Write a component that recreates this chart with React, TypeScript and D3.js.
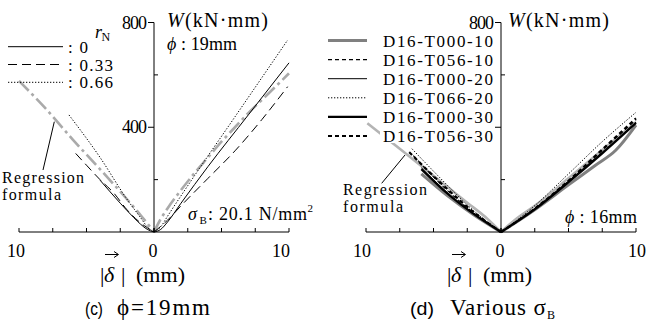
import React from 'react';
import * as d3 from 'd3';

type P = [number, number];

// ---------- (c) phi = 19 mm : rN series, [|delta| mm, W kN·mm] ----------
const cR0Right: P[] = [[0, 0], [0.5, 10], [1, 38], [2, 110], [4, 250], [7, 448], [10, 646]];
const cR0Left: P[] = [[0, 0], [0.5, 10], [1, 30], [1.5, 55], [2.5, 110], [4, 198]];
const cR33Right: P[] = [[0, 0], [1, 45], [2, 100], [4, 205], [6, 310], [8, 430], [9.9, 555]];
const cR33Left: P[] = [[0, 0], [1, 35], [2, 85], [3, 150], [4, 200], [5, 255], [5.8, 300]];
const cR66Right: P[] = [[0, 0], [0.5, 20], [1, 60], [3, 215], [6, 440], [9.9, 733]];
const cR66Left: P[] = [[0, 0], [0.5, 20], [1, 55], [2, 125], [4, 285], [6.3, 447]];
const cRegRight: P[] = [[0, 0], [0.5, 50], [1, 90], [2, 160], [3, 225], [4, 285], [5, 345], [6, 400], [7, 455], [8, 505], [9, 555], [10, 606]];
const cRegLeft: P[] = [[0, 0], [1, 65], [2, 125], [4, 240], [6, 352], [8, 470], [10, 577]];

// ---------- (d) various sigma_B : phi = 16 mm ----------
const dT000_10Right: P[] = [[0, 0], [2.5, 85], [5, 180], [7, 255], [8.5, 312], [10, 408]];
const dT000_10Left: P[] = [[0, 0], [2, 65], [4, 140], [5.9, 222]];
const dT056_10Right: P[] = [[0, 0], [2.5, 90], [5, 198], [7.5, 312], [10, 428]];
const dT056_10Left: P[] = [[0, 0], [2, 72], [4, 160], [6.5, 292]];
const dT000_20Right: P[] = [[0, 0], [2.5, 90], [5, 195], [7.5, 305], [10, 420]];
const dT000_20Left: P[] = [[0, 0], [2, 70], [4, 152], [5.9, 245]];
const dT066_20Right: P[] = [[0, 0], [1, 38], [2.4, 96], [4.9, 217], [7.5, 345], [10, 457]];
const dT066_20Left: P[] = [[0, 0], [2, 80], [4, 180], [6.6, 318]];
const dT000_30Right: P[] = [[0, 0], [2.5, 86], [5, 190], [7.5, 300], [10, 416]];
const dT000_30Left: P[] = [[0, 0], [2, 68], [4, 148], [5.9, 240]];
const dT056_30Right: P[] = [[0, 0], [2.4, 85], [4.9, 190], [7.5, 315], [10, 434]];
const dT056_30Left: P[] = [[0, 0], [2, 75], [4, 165], [6.8, 305]];
const dRegRight: P[] = [[0, 0], [1, 45], [2.5, 100], [5, 205], [7.5, 313], [10, 420]];
const dRegLeft: P[] = [[0, 0], [1, 50], [2.5, 112], [5, 215], [7.5, 318], [9.9, 415]];

const cLegendLabels = [': 0', ': 0.33', ': 0.66'];
const dLegendLabels = ['D16-T000-10', 'D16-T056-10', 'D16-T000-20', 'D16-T066-20', 'D16-T000-30', 'D16-T056-30'];

const xTickValues = [0, 2.5, 5, 7.5, 10];
const cYLabels = [400, 800];
const dYLabels = [800];
const yLeftTicks = [400, 800];
const yRightTicks = [200, 600];

const SERIF = 'Liberation Serif, Times New Roman, Times, serif';
const SANS = 'Liberation Sans, Arial, Helvetica, sans-serif';

type Style = { stroke: string; width: number; dash?: string };

const cStyles: Style[] = [
  { stroke: '#000', width: 1 },
  { stroke: '#000', width: 1, dash: '9,5' },
  { stroke: '#000', width: 1, dash: '1.3,1.7' },
];
const regStyleC: Style = { stroke: '#aaa', width: 2.6, dash: '14,4,3,4' };
const regStyleD: Style = { stroke: '#b4b4b4', width: 2.6 };
const dStyles: Style[] = [
  { stroke: '#808080', width: 3 },
  { stroke: '#000', width: 1.1, dash: '4,3' },
  { stroke: '#000', width: 1 },
  { stroke: '#000', width: 1, dash: '1.3,1.7' },
  { stroke: '#000', width: 2.2 },
  { stroke: '#000', width: 2.2, dash: '4,3' },
];

const yScale = d3.scaleLinear().domain([0, 800]).range([232, 22.5]);

type Panel = { x0: number; xL: number; xR: number };

function pathFor(xs: d3.ScaleLinear<number, number>, pts: P[]) {
  const px: [number, number][] = pts.map((d) => [xs(d[0]), yScale(d[1])]);
  px.sort((a, b) => a[0] - b[0]);
  return d3.line().curve(d3.curveMonotoneX)(px) || '';
}

function Series({ panel, right, left, st }: { panel: Panel; right: P[]; left: P[]; st: Style }) {
  const xr = d3.scaleLinear().domain([0, 10]).range([panel.x0, panel.xR]);
  const xl = d3.scaleLinear().domain([0, 10]).range([panel.x0, panel.xL]);
  const common = {
    fill: 'none',
    stroke: st.stroke,
    strokeWidth: st.width,
    strokeDasharray: st.dash,
  };
  return (
    <g>
      <path d={pathFor(xr, right)} {...common} />
      <path d={pathFor(xl, left)} {...common} />
    </g>
  );
}

function Axes({ panel, xLab, yLabels }: { panel: Panel; xLab: [number, number, number]; yLabels: number[] }) {
  const xr = d3.scaleLinear().domain([0, 10]).range([panel.x0, panel.xR]);
  const xl = d3.scaleLinear().domain([0, 10]).range([panel.x0, panel.xL]);
  const y0 = yScale(0);
  return (
    <g stroke="#000" strokeWidth={1} fill="none">
      <line x1={panel.xL} x2={panel.xR} y1={y0} y2={y0} />
      <line x1={panel.x0} x2={panel.x0} y1={y0} y2={yScale(800)} />
      {xTickValues.map((t) => (
        <g key={'t' + t}>
          <line x1={xr(t)} x2={xr(t)} y1={y0} y2={y0 - 4} />
          <line x1={xl(t)} x2={xl(t)} y1={y0} y2={y0 - 4} />
        </g>
      ))}
      {yLeftTicks.map((t) => (
        <line key={'ym' + t} x1={panel.x0 - 6} x2={panel.x0} y1={yScale(t)} y2={yScale(t)} />
      ))}
      {yRightTicks.map((t) => (
        <line key={'yn' + t} x1={panel.x0} x2={panel.x0 + 4} y1={yScale(t)} y2={yScale(t)} />
      ))}
      <g stroke="none" fill="#000" fontFamily={SERIF} fontSize={18} textAnchor="middle">
        <text x={xLab[0]} y={257}>10</text>
        <text x={xLab[1]} y={257}>0</text>
        <text x={xLab[2]} y={257} textAnchor={xLab[2] > 630 ? 'end' : 'middle'}>10</text>
        {yLabels.map((t) => (
          <text key={'yl' + t} x={panel.x0 - 32} y={yScale(t) + 6} textAnchor="start" textLength={25} lengthAdjust="spacing">
            {t}
          </text>
        ))}
      </g>
    </g>
  );
}

function XLabel({ x }: { x: number }) {
  return (
    <g fontFamily={SERIF} fontSize={22}>
      <text x={x} y={282}>|</text>
      <text x={x + 4} y={282} fontStyle="italic">δ</text>
      <text x={x + 21} y={282}>|</text>
      <text x={x + 36} y={282} textLength={49} lengthAdjust="spacing">(mm)</text>
      <path d={`M${x + 5},254.5 H${x + 18}`} stroke="#000" strokeWidth={1} fill="none" />
      <path d={`M${x + 14},251.5 L${x + 18.5},254.5 L${x + 14},257.5`} stroke="#000" strokeWidth={1} fill="none" />
    </g>
  );
}

function WLabel({ x }: { x: number }) {
  return (
    <text x={x} y={27} fontFamily={SERIF} fontSize={20} textLength={101} lengthAdjust="spacing">
      <tspan fontStyle="italic">W</tspan>(kN·mm)
    </text>
  );
}

export default function App() {
  const pc: Panel = { x0: 154, xL: 19, xR: 289 };
  const pd: Panel = { x0: 501, xL: 366, xR: 636 };
  const cRights = [cR0Right, cR33Right, cR66Right];
  const cLefts = [cR0Left, cR33Left, cR66Left];
  const dRights = [dT000_10Right, dT056_10Right, dT000_20Right, dT066_20Right, dT000_30Right, dT056_30Right];
  const dLefts = [dT000_10Left, dT056_10Left, dT000_20Left, dT066_20Left, dT000_30Left, dT056_30Left];

  return (
    <svg
      width={646}
      height={331}
      style={{ position: 'absolute', left: 0, top: 0, background: '#fff', fontFamily: SERIF }}
      fontFamily={SERIF}
    >
      <rect x={0} y={0} width={646} height={331} fill="#fff" />

      {/* ---------- panel (c) ---------- */}
      <Series panel={pc} right={cRegRight} left={cRegLeft} st={regStyleC} />
      {cRights.map((r, i) => (
        <Series key={'c' + i} panel={pc} right={r} left={cLefts[i]} st={cStyles[i]} />
      ))}
      <Axes panel={pc} xLab={[16, 153, 281]} yLabels={cYLabels} />
      <WLabel x={167} />
      <text x={167} y={50} fontSize={18} textLength={70} lengthAdjust="spacing">
        <tspan fontStyle="italic">ϕ</tspan> : 19mm
      </text>
      {/* rN legend */}
      <text x={95} y={38} fontSize={18} fontStyle="italic">r</text>
      <text x={101.5} y={41} fontSize={12}>N</text>
      {cLegendLabels.map((lab, i) => {
        const yy = 46.7 + i * 17.8;
        const st = cStyles[i];
        return (
          <g key={'cl' + i}>
            <line x1={8} x2={63} y1={yy} y2={yy} stroke={st.stroke} strokeWidth={st.width} strokeDasharray={st.dash} />
            <text x={68} y={yy + 6} fontSize={17} textLength={i === 0 ? 20 : 45} lengthAdjust="spacing">
              {lab}
            </text>
          </g>
        );
      })}
      {/* regression annotation */}
      <line x1={43} y1={170} x2={54.3} y2={121.7} stroke="#000" strokeWidth={1} />
      <text x={2} y={183} fontSize={16} textLength={82} lengthAdjust="spacing">Regression</text>
      <text x={2} y={200} fontSize={16} textLength={59} lengthAdjust="spacing">formula</text>
      {/* sigma_B */}
      <text x={188} y={220} fontSize={18} fontStyle="italic">σ</text>
      <text x={199.5} y={224} fontSize={11}>B</text>
      <text x={208} y={220} fontSize={18} textLength={99} lengthAdjust="spacing">: 20.1 N/mm</text>
      <text x={307.5} y={212} fontSize={11}>2</text>
      <XLabel x={100} />
      <text x={85} y={315} fontFamily={SANS} fontSize={18} textLength={18} lengthAdjust="spacingAndGlyphs">(c)</text>
      <text x={117} y={315} fontSize={23} textLength={93} lengthAdjust="spacing">ϕ=19mm</text>

      {/* ---------- panel (d) ---------- */}
      <Series panel={pd} right={dRegRight} left={dRegLeft} st={regStyleD} />
      {dRights.map((r, i) => (
        <Series key={'d' + i} panel={pd} right={r} left={dLefts[i]} st={dStyles[i]} />
      ))}
      <Axes panel={pd} xLab={[362, 500, 646]} yLabels={dYLabels} />
      <WLabel x={508} />
      {dLegendLabels.map((lab, i) => {
        const yy = 40.5 + i * 19.1;
        const st = dStyles[i];
        return (
          <g key={'dl' + i}>
            <line x1={328} x2={367} y1={yy} y2={yy} stroke={st.stroke} strokeWidth={st.width} strokeDasharray={st.dash} />
            <rect x={380} y={yy - 7} width={116} height={14} fill="#fff" />
            <text x={383} y={yy + 6} fontSize={17} textLength={110} lengthAdjust="spacing">
              {lab}
            </text>
          </g>
        );
      })}
      <line x1={381.7} y1={183.3} x2={405} y2={155} stroke="#000" strokeWidth={1} />
      <text x={343} y={195} fontSize={16} textLength={84} lengthAdjust="spacing">Regression</text>
      <text x={343} y={212} fontSize={16} textLength={60} lengthAdjust="spacing">formula</text>
      <text x={565} y={223} fontSize={18} textLength={72} lengthAdjust="spacing">
        <tspan fontStyle="italic">ϕ</tspan> : 16mm
      </text>
      <XLabel x={447} />
      <text x={410} y={315} fontFamily={SANS} fontSize={18} textLength={24} lengthAdjust="spacingAndGlyphs">(d)</text>
      <text x={450} y={315} fontSize={23} textLength={96} lengthAdjust="spacing">Various σ</text>
      <text x={547} y={318.5} fontSize={12}>B</text>
    </svg>
  );
}
